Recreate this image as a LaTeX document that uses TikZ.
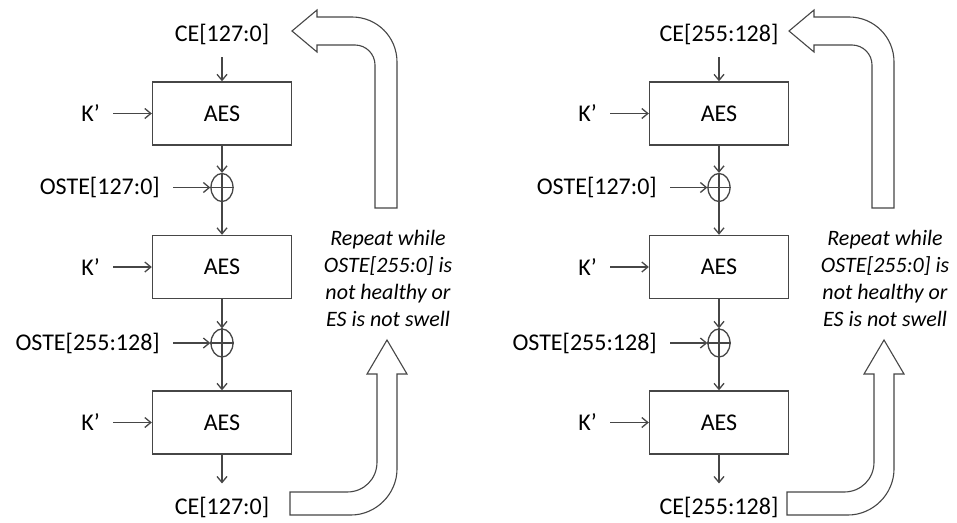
\documentclass[tikz,border=0pt]{standalone}
\usepackage{fontspec}
\setmainfont{Carlito}
\usetikzlibrary{arrows.meta,shapes.geometric}
\definecolor{ln}{RGB}{70,70,70}
\begin{document}
\begin{tikzpicture}[x=1pt,y=-1pt,
  lbl/.style={font=\fontsize{24}{29}\selectfont, inner sep=0pt},
  aesbox/.style={draw=ln, line width=1.4pt, minimum width=139pt, minimum height=63pt, inner sep=0pt, font=\fontsize{24}{29}\selectfont},
  xorc/.style={draw=ln, line width=1.3pt, ellipse, minimum width=22pt, minimum height=28pt, inner sep=0pt},
  plain/.style={draw=ln, line width=1.3pt},
  flow/.style={draw=ln, line width=1.3pt, -{Straight Barb[length=6pt,width=10pt]}},
  bigarrow/.style={draw=ln, line width=1.1pt, line join=miter, fill=white},
  note/.style={font=\fontsize{22}{27}\selectfont\itshape, align=center, inner sep=0pt}]
\useasboundingbox (0,0) rectangle (957,522);
\foreach \dx/\ct/\p in {0/{127:0}/L, 497/{255:128}/R}{
\begin{scope}[xshift=\dx pt]
  \node[lbl, anchor=base] (ceT\p) at (222,41) {CE[\ct]};
  \node[aesbox] (a1\p) at (222,113.5) {AES};
  \node[aesbox] (a2\p) at (222,267) {AES};
  \node[aesbox] (a3\p) at (222,422.5) {AES};
  \node[xorc] (x1\p) at (222,187.5) {};
  \node[xorc] (x2\p) at (222,343) {};
  \node[lbl, anchor=east] (k1\p) at (100,113.5) {K’};
  \node[lbl, anchor=east] (k2\p) at (100,267) {K’};
  \node[lbl, anchor=east] (k3\p) at (100,422.5) {K’};
  \node[lbl, anchor=east] (o1\p) at (160,187.5) {OSTE[127:0]};
  \node[lbl, anchor=east] (o2\p) at (160,343) {OSTE[255:128]};
  \node[lbl, anchor=base] (ceB\p) at (222,514) {CE[\ct]};
  \node[note] (n\p) at (388,278) {Repeat while\\OSTE[255:0] is\\not healthy or\\ES is not swell};
  % flow
  \draw[flow, shorten <=13pt] (ceT\p.south) -- (a1\p.north);
  \draw[flow] (a1\p.south) -- (x1\p.north);
  \draw[plain] (x1\p.north) -- (x1\p.south);
  \draw[plain] (x1\p.west) -- (x1\p.east);
  \draw[flow] (x1\p.south) -- (a2\p.north);
  \draw[flow] (a2\p.south) -- (x2\p.north);
  \draw[plain] (x2\p.north) -- (x2\p.south);
  \draw[plain] (x2\p.west) -- (x2\p.east);
  \draw[flow] (x2\p.south) -- (a3\p.north);
  \draw[flow, shorten >=13pt] (a3\p.south) -- (ceB\p.north);
  \draw[flow, shorten <=13pt] (k1\p.east) -- (a1\p.west);
  \draw[flow, shorten <=13pt] (k2\p.east) -- (a2\p.west);
  \draw[flow, shorten <=13pt] (k3\p.east) -- (a3\p.west);
  \draw[flow, shorten <=13pt] (o1\p.east) -- (x1\p.west);
  \draw[flow, shorten <=13pt] (o2\p.east) -- (x2\p.west);
  % big hollow arrows
  \draw[bigarrow] (375,208) -- (375,65) .. controls (375,54) and (366,45) .. (355,45)
    -- (317,45) -- (317,52) -- (292,31) -- (317,10) -- (317,17) -- (352,17)
    .. controls (377,17) and (397,37) .. (397,62) -- (397,208) -- cycle;
  \draw[bigarrow] (290,492) -- (347,492) .. controls (364,492) and (377,479) .. (377,462)
    -- (377,374) -- (367,374) -- (387,340) -- (407,374) -- (397,374) -- (397,469)
    .. controls (397,494) and (376,515) .. (351,515) -- (290,515) -- cycle;
\end{scope}
}
\end{tikzpicture}
\end{document}
